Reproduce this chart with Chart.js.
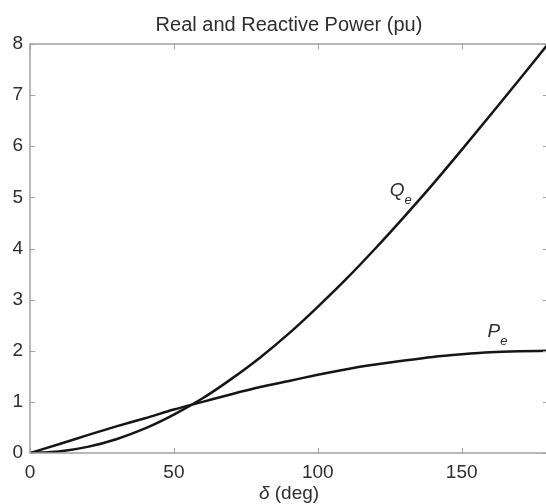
<!DOCTYPE html>
<html>
<head>
<meta charset="utf-8">
<script src="https://cdn.jsdelivr.net/npm/chart.js@4/dist/chart.umd.min.js"></script>
<style>
  html, body { margin: 0; padding: 0; background: #ffffff; overflow: hidden; }
  #wrap { width: 546px; height: 504px; position: relative; overflow: hidden; }
</style>
</head>
<body>
<div id="wrap"><canvas id="c" width="548" height="504"></canvas></div>
<script>
// ---- data ----
const deltaDeg = [0, 10, 20, 30, 40, 50, 60, 70, 80, 90, 100, 110, 120, 130, 140, 150, 160, 170, 180];
const realPower = [0, 0.17, 0.35, 0.52, 0.68, 0.85, 1.00, 1.15, 1.29, 1.41, 1.53, 1.64, 1.73, 1.81, 1.88, 1.93, 1.97, 1.99, 2.00];
const reactivePower = [0, 0.03, 0.12, 0.27, 0.48, 0.75, 1.07, 1.45, 1.87, 2.34, 2.86, 3.41, 4.00, 4.62, 5.26, 5.93, 6.61, 7.30, 8.00];
const xTickValues = [0, 50, 100, 150];
const yTickValues = [0, 1, 2, 3, 4, 5, 6, 7, 8];
const titleText = 'Real and Reactive Power (pu)';
const xTitleSymbol = 'δ';
const xTitleUnit = ' (deg)';

const FONT = '"Liberation Sans", Arial, Helvetica, sans-serif';
const TEXT = '#2e2e2e';
const AXIS = '#a0a0a0';

const decor = {
  id: 'decor',
  afterDatasetsDraw(chart) {
    const ctx = chart.ctx;
    const a = chart.chartArea;
    const xs = chart.scales.x, ys = chart.scales.y;
    ctx.save();
    // box
    ctx.strokeStyle = AXIS;
    ctx.lineWidth = 1.5;
    ctx.strokeRect(a.left, a.top, a.right - a.left, a.bottom - a.top);
    // inward ticks
    ctx.lineWidth = 1;
    ctx.beginPath();
    xTickValues.forEach(v => {
      const px = Math.round(xs.getPixelForValue(v)) + 0.5;
      ctx.moveTo(px, a.bottom); ctx.lineTo(px, a.bottom - 5);
      ctx.moveTo(px, a.top); ctx.lineTo(px, a.top + 5);
    });
    yTickValues.forEach(v => {
      const py = Math.round(ys.getPixelForValue(v)) + 0.5;
      ctx.moveTo(a.left, py); ctx.lineTo(a.left + 5, py);
      ctx.moveTo(a.right, py); ctx.lineTo(a.right - 5, py);
    });
    ctx.stroke();
    // title
    ctx.fillStyle = TEXT;
    ctx.textAlign = 'center';
    ctx.textBaseline = 'alphabetic';
    ctx.font = '20px ' + FONT;
    const cx = (a.left + a.right) / 2;
    ctx.fillText(titleText, cx, 31);
    // x axis title: italic delta + normal unit
    ctx.textAlign = 'left';
    ctx.font = 'italic 19px ' + FONT;
    const w1 = ctx.measureText(xTitleSymbol).width;
    ctx.font = '19px ' + FONT;
    const w2 = ctx.measureText(xTitleUnit).width;
    const sx = cx - (w1 + w2) / 2;
    ctx.font = 'italic 19px ' + FONT;
    ctx.fillText(xTitleSymbol, sx, 499);
    ctx.font = '19px ' + FONT;
    ctx.fillText(xTitleUnit, sx + w1, 499);
    // curve labels
    const lab = (main, sub, xv, yv) => {
      const px = xs.getPixelForValue(xv), py = ys.getPixelForValue(yv);
      ctx.font = 'italic 19px ' + FONT;
      ctx.fillText(main, px, py);
      const w = ctx.measureText(main).width;
      ctx.font = 'italic 13px ' + FONT;
      ctx.fillText(sub, px + w, py + 8);
    };
    lab('Q', 'e', 125, 5.03);
    lab('P', 'e', 159, 2.27);
    ctx.restore();
  }
};

new Chart(document.getElementById('c'), {
  type: 'line',
  data: {
    datasets: [
      { label: 'Qe', data: deltaDeg.map((d, i) => ({ x: d, y: reactivePower[i] })),
        borderColor: '#151515', borderWidth: 2.5, pointRadius: 0, cubicInterpolationMode: 'monotone', fill: false },
      { label: 'Pe', data: deltaDeg.map((d, i) => ({ x: d, y: realPower[i] })),
        borderColor: '#151515', borderWidth: 2.5, pointRadius: 0, cubicInterpolationMode: 'monotone', fill: false }
    ]
  },
  options: {
    responsive: false,
    animation: false,
    devicePixelRatio: 1,
    layout: { padding: { top: 44, right: 0, bottom: 0, left: 0 } },
    plugins: { legend: { display: false }, title: { display: false }, tooltip: { enabled: false } },
    scales: {
      x: {
        type: 'linear', min: 0, max: 180,
        afterBuildTicks: s => { s.ticks = xTickValues.map(v => ({ value: v })); },
        afterFit: s => { s.height = 51; s.paddingLeft = 0; s.paddingRight = 0; },
        grid: { display: false, drawTicks: false },
        border: { display: false },
        ticks: { color: TEXT, font: { family: FONT, size: 19 }, padding: 8, maxRotation: 0, autoSkip: false }
      },
      y: {
        type: 'linear', min: 0, max: 8,
        afterBuildTicks: s => { s.ticks = yTickValues.map(v => ({ value: v })); },
        afterFit: s => { s.width = 30; s.paddingTop = 0; s.paddingBottom = 0; },
        grid: { display: false, drawTicks: false },
        border: { display: false },
        ticks: { color: TEXT, font: { family: FONT, size: 19 }, padding: 7 }
      }
    }
  },
  plugins: [decor]
});
</script>
</body>
</html>
